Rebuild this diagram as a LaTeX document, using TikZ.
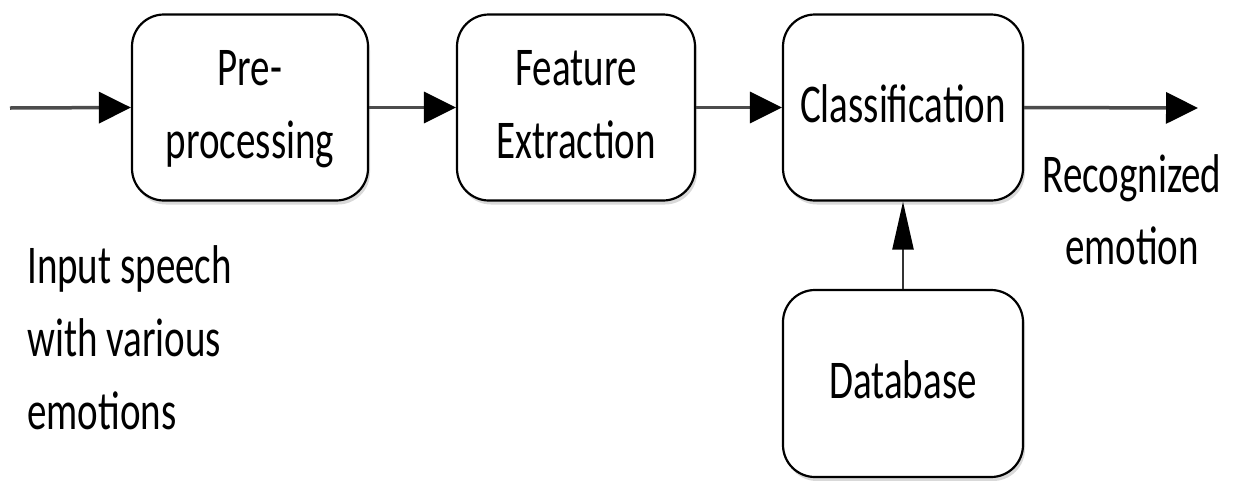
\documentclass[tikz,border=0pt]{standalone}
\usepackage{fontspec}
\setmainfont{Carlito}
\usetikzlibrary{arrows.meta,shadows}
\newcommand{\stretchtext}[2]{\scalebox{1}[1.4]{\fontsize{39}{52}\selectfont\begin{tabular}{@{}#1@{}}#2\end{tabular}}}
\begin{document}
\begin{tikzpicture}[x=1pt,y=-1pt,
  blockbox/.style={draw=black, line width=2.2pt, rounded corners=32pt, fill=white,
    minimum height=186pt, inner sep=0pt, text=black,
    drop shadow={shadow xshift=2pt, shadow yshift=-4pt, opacity=0.3}},
  flowline/.style={draw=black!70, line width=3.5pt},
  harrow/.style={flowline, -{Triangle[length=32pt,width=31pt,fill=black,color=black]}},
  varrow/.style={draw=black!80, line width=2.4pt, -{Triangle[length=48pt,width=21pt,fill=black,color=black]}},
  label/.style={inner sep=0pt, text=black}]
\useasboundingbox (0,0) rectangle (1236,480);
\node[blockbox, minimum width=236pt] (pre) at (250,107.5) {\stretchtext{c}{Pre-\\processing}};
\node[blockbox, minimum width=238pt] (feat) at (576,107.5) {\stretchtext{c}{Feature\\Extraction}};
\node[blockbox, minimum width=240pt] (cls) at (903,107.5) {\stretchtext{c}{Classification}};
\node[blockbox, minimum width=240pt, minimum height=187pt] (db) at (903,383.5) {\stretchtext{c}{Database}};
\coordinate (in) at (10,108);
\coordinate (out) at (1198,108);
\draw[harrow] (in) -- (pre.west);
\draw[harrow] (pre.east) -- (feat.west);
\draw[harrow] (feat.east) -- (cls.west);
\draw[harrow] (cls.east) -- (out);
\draw[varrow] (db.north) -- (cls.south);
\node[label, anchor=west] (inlabel) at (27,342) {\stretchtext{l}{Input speech\\with various\\emotions}};
\node[label] (outlabel) at (1132,214) {\stretchtext{c}{Recognized\\emotion}};
\end{tikzpicture}
\end{document}
